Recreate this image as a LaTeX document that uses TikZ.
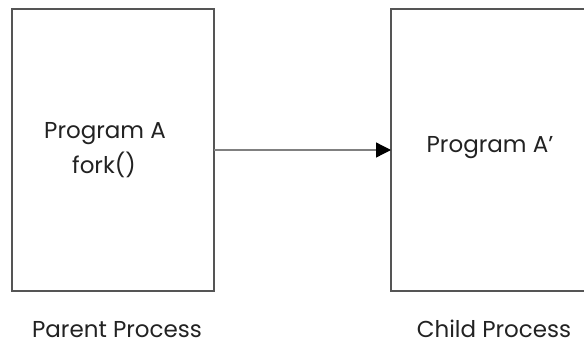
\documentclass[tikz,border=0pt]{standalone}
\usepackage{fontspec}
\setmainfont{Poppins}
\usetikzlibrary{arrows.meta}
\definecolor{linegray}{HTML}{555555}
\definecolor{arrowgray}{HTML}{808080}
\definecolor{textgray}{HTML}{222222}
\begin{document}
\begin{tikzpicture}[x=1pt,y=-1pt,
  procbox/.style={draw=linegray,line width=1.3pt,fill=none},
  label/.style={anchor=base,inner sep=0pt,text=textgray,font=\fontsize{23}{27}\selectfont}]
\useasboundingbox (0,0) rectangle (584,345);
\clip (0,0) rectangle (584,345);
\draw[procbox] (12,9) rectangle (214,291);
\node[inner sep=0pt,minimum width=202pt,minimum height=282pt] (parent) at (113,150) {};
\draw[procbox] (391,9) rectangle (620,291);
\coordinate (childleft) at (391,150);
\node[label] (pa) at (105,138) {Program A};
\node[label] (fork) at (104,173) {fork()};
\node[label] (pap) at (490,152) {Program A’};
\node[label,text depth=0pt] (pp) at (117,337) {Parent Process};
\node[label,text depth=0pt] (cp) at (494,337) {Child Process};
\draw[arrowgray,line width=1.3pt,-{Triangle[length=15pt,width=15pt,fill=black,color=black]}] (parent.east) -- (childleft);
\end{tikzpicture}
\end{document}
